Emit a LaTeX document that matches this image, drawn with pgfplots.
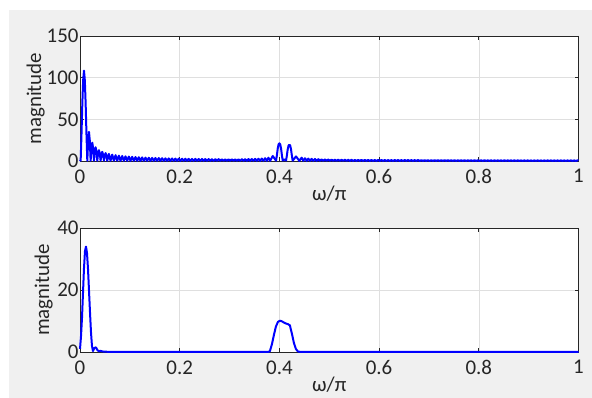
\documentclass[border=0pt]{standalone}
\usepackage{pgfplots}
\pgfplotsset{compat=1.18}
\usepackage{fontspec}
\setmainfont{Carlito}
\definecolor{figbg}{RGB}{240,240,240}
\definecolor{axcol}{RGB}{38,38,38}
\definecolor{gridcol}{RGB}{223,223,223}
\pgfplotsset{mstyle/.style={
  scale only axis, width=498.5bp,
  xmin=0, xmax=1,
  xtick={0,0.2,0.4,0.6,0.8,1},
  xticklabels={0,0.2,0.4,0.6,0.8,1},
  grid=major, major grid style={gridcol, line width=0.6bp},
  axis line style={axcol, line width=0.7bp},
  tick style={axcol, line width=0.7bp},
  tick align=inside, major tick length=4bp,
  axis background/.style={fill=white},
  /pgf/number format/assume math mode=true,
  tick label style={font=\fontsize{21}{24}\selectfont, text=axcol},
  label style={font=\fontsize{21}{24}\selectfont, text=axcol},
  xticklabel style={yshift=-5bp},
  yticklabel style={xshift=2bp},
  clip=false,
  every axis plot/.append style={color={rgb,255:red,0;green,0;blue,255}, line width=2bp, line join=round, no markers},
}}
\begin{document}
\begin{tikzpicture}[x=1bp,y=1bp]
\useasboundingbox (0bp,0bp) rectangle (592bp,398bp);
\fill[white] (0bp,0bp) rectangle (592bp,398bp);
\fill[figbg] (9bp,0bp) rectangle (592bp,388bp);
\begin{axis}[mstyle, at={(80bp,237bp)}, anchor=south west, height=125bp,
  ymin=0, ymax=150, ytick={0,50,100,150},
  xlabel={ω/π}, ylabel={magnitude},
  xlabel style={at={(axis description cs:0.5,-0.2)}, anchor=north, inner sep=0pt},
  ylabel style={at={(axis description cs:-0.0702,0.5)}, anchor=south, inner sep=0pt}]
\addplot coordinates {
(0,1.5) (0.0013,0.3) (0.003,32) (0.00467,69) (0.00633,97) (0.008,108.5) (0.00967,97) (0.01133,69) (0.013,32) (0.01467,0.3)
(0.01633,24.5) (0.018,35) (0.01967,24.5) (0.02133,0.3)
(0.023,15.4) (0.02467,22) (0.02633,15.4) (0.028,0.3)
(0.02967,11.5) (0.03133,16.5) (0.033,11.5) (0.03467,0.3)
(0.03633,9.1) (0.038,13) (0.03967,9.1) (0.04133,0.3)
(0.043,7.7) (0.04467,11) (0.04633,7.7) (0.048,0.3)
(0.04967,6.6) (0.05133,9.5) (0.053,6.6) (0.05467,0.3)
(0.058,8.5) (0.06133,0.3) (0.06467,7.6) (0.068,0.3) (0.07133,7) (0.07467,0.3)
(0.078,6.4) (0.08133,0.2) (0.08467,6) (0.088,0.2) (0.09133,5.6) (0.09467,0.2)
(0.098,5.3) (0.10133,0.2) (0.10467,5) (0.108,0.2) (0.11133,4.7) (0.11467,0.2)
(0.118,4.5) (0.12133,0.2) (0.12467,4.3) (0.128,0.2) (0.13133,4.1) (0.13467,0.2)
(0.138,3.9) (0.14133,0.2) (0.14467,3.7) (0.148,0.2) (0.15133,3.6) (0.15467,0.2)
(0.158,3.5) (0.16133,0.2) (0.16467,3.3) (0.168,0.2) (0.17133,3.2) (0.17467,0.2)
(0.178,3.1) (0.18133,0.2) (0.18467,3) (0.188,0.2) (0.19133,2.9) (0.19467,0.2)
(0.198,2.8) (0.20133,0.2) (0.20467,2.7) (0.208,0.2) (0.21133,2.7) (0.21467,0.2)
(0.218,2.6) (0.22133,0.2) (0.22467,2.5) (0.228,0.2) (0.23133,2.5) (0.23467,0.2)
(0.238,2.4) (0.24133,0.2) (0.24467,2.4) (0.248,0.2) (0.25133,2.3) (0.25467,0.2)
(0.258,2.3) (0.26133,0.2) (0.26467,2.2) (0.268,0.2) (0.27133,2.2) (0.27467,0.2)
(0.278,2.2) (0.28133,0.2) (0.28467,2.1) (0.288,0.2) (0.29133,2.1) (0.29467,0.2)
(0.298,2.1) (0.30133,0.2) (0.30467,2.1) (0.308,0.2) (0.31133,2.1) (0.31467,0.2)
(0.318,2.1) (0.32133,0.2) (0.32467,2.2) (0.328,0.2) (0.33133,2.2) (0.33467,0.2)
(0.338,2.3) (0.34133,0.2) (0.34467,2.4) (0.348,0.2) (0.35133,2.5) (0.35467,0.2)
(0.358,2.7) (0.36133,0.2) (0.36467,2.9) (0.368,0.2) (0.37133,3.3) (0.37467,0.2)
(0.378,4) (0.38133,0.2)
(0.38667,6) (0.39333,0.4) (0.395,7) (0.39667,15) (0.39833,20) (0.4,21.2) (0.40167,20) (0.40333,15) (0.405,7) (0.40667,0.5)
(0.41,2) (0.41333,0.5) (0.415,6.5) (0.41667,14) (0.41833,18.5) (0.42,19.5) (0.42167,18.5) (0.42333,14) (0.425,6.5) (0.42667,0.4)
(0.43333,5.5) (0.44,0.2)
(0.44467,4) (0.448,0.2) (0.45133,3.3) (0.45467,0.2) (0.458,2.9) (0.46133,0.2)
(0.46467,2.6) (0.468,0.2) (0.47133,2.4) (0.47467,0.2) (0.478,2.2) (0.48133,0.2)
(0.48467,2) (0.488,0.2) (0.49133,1.9) (0.49467,0.2) (0.498,1.8) (0.50133,0.2)
(0.50467,1.7) (0.508,0.1) (0.51133,1.6) (0.51467,0.1) (0.518,1.6) (0.52133,0.1)
(0.52467,1.5) (0.528,0.1) (0.53133,1.5) (0.53467,0.1) (0.538,1.4) (0.54133,0.1)
(0.54467,1.4) (0.548,0.1) (0.55133,1.3) (0.55467,0.1) (0.558,1.3) (0.56133,0.1)
(0.56467,1.3) (0.568,0.1) (0.57133,1.3) (0.57467,0.1) (0.578,1.2) (0.58133,0.1)
(0.58467,1.2) (0.588,0.1) (0.59133,1.2) (0.59467,0.1) (0.598,1.2) (0.60133,0.1)
(0.60467,1.2) (0.608,0.1) (0.61133,1.2) (0.61467,0.1) (0.618,1.1) (0.62133,0.1)
(0.62467,1.1) (0.628,0.1) (0.63133,1.1) (0.63467,0.1) (0.638,1.1) (0.64133,0.1)
(0.64467,1.1) (0.648,0.1) (0.65133,1.1) (0.65467,0.1) (0.658,1.1) (0.66133,0.1)
(0.66467,1.1) (0.668,0.1) (0.67133,1.1) (0.67467,0.1) (0.678,1.1) (0.68133,0.1)
(0.68467,1) (0.688,0.1) (0.69133,1) (0.69467,0.1) (0.698,1) (0.70133,0.1)
(0.70467,1) (0.708,0.1) (0.71133,1) (0.71467,0.1) (0.718,1) (0.72133,0.1)
(0.72467,1) (0.728,0.1) (0.73133,1) (0.73467,0.1) (0.738,1) (0.74133,0.1)
(0.74467,1) (0.748,0.1) (0.75133,0.9) (0.75467,0.1) (0.758,0.9) (0.76133,0.1)
(0.76467,0.9) (0.768,0.1) (0.77133,0.9) (0.77467,0.1) (0.778,0.9) (0.78133,0.1)
(0.78467,0.9) (0.788,0.1) (0.79133,0.9) (0.79467,0.1) (0.798,0.9) (0.80133,0.1)
(0.80467,0.9) (0.808,0.1) (0.81133,0.9) (0.81467,0.1) (0.818,0.8) (0.82133,0.1)
(0.82467,0.8) (0.828,0.1) (0.83133,0.8) (0.83467,0.1) (0.838,0.8) (0.84133,0.1)
(0.84467,0.8) (0.848,0.1) (0.85133,0.8) (0.85467,0.1) (0.858,0.8) (0.86133,0.1)
(0.86467,0.8) (0.868,0.1) (0.87133,0.8) (0.87467,0.1) (0.878,0.8) (0.88133,0.1)
(0.88467,0.7) (0.888,0.1) (0.89133,0.7) (0.89467,0.1) (0.898,0.7) (0.90133,0.1)
(0.90467,0.7) (0.908,0.1) (0.91133,0.7) (0.91467,0.1) (0.918,0.7) (0.92133,0.1)
(0.92467,0.7) (0.928,0.1) (0.93133,0.7) (0.93467,0.1) (0.938,0.7) (0.94133,0.1)
(0.94467,0.7) (0.948,0.1) (0.95133,0.7) (0.95467,0.1) (0.958,0.7) (0.96133,0.1)
(0.96467,0.7) (0.968,0.1) (0.97133,0.7) (0.97467,0.1) (0.978,0.7) (0.98133,0.1)
(0.98467,0.7) (0.988,0.1) (0.99133,0.7) (0.99467,0.1) (0.998,0.7) (1,0.6)
};
\end{axis}
\begin{axis}[mstyle, at={(80bp,46bp)}, anchor=south west, height=124bp,
  ymin=0, ymax=40, ytick={0,20,40},
  xlabel={ω/π}, ylabel={magnitude},
  xlabel style={at={(axis description cs:0.5,-0.2)}, anchor=north, inner sep=0pt},
  ylabel style={at={(axis description cs:-0.0542,0.5)}, anchor=south, inner sep=0pt}]
\addplot coordinates {
(0,1) (0.002,5) (0.004,11) (0.006,19) (0.008,27) (0.010,32.5) (0.012,34) (0.014,32) (0.016,27)
(0.018,20) (0.020,13) (0.022,6.5) (0.024,2) (0.026,0.3) (0.029,1.3) (0.032,1.5) (0.035,0.6)
(0.038,0.2) (0.041,0.4) (0.044,0.2) (0.05,0.1) (0.06,0.05) (0.2,0.05) (0.37,0.05)
(0.378,0.05) (0.381,0.3) (0.385,2.5) (0.389,5.5) (0.393,8.2) (0.397,9.7) (0.401,10.1)
(0.405,9.9) (0.409,9.5) (0.413,9.2) (0.417,9.0) (0.421,8.6) (0.425,6) (0.429,3) (0.433,1)
(0.437,0.2) (0.441,0.05) (0.6,0.05) (1,0.05)
};
\end{axis}
\end{tikzpicture}
\end{document}
